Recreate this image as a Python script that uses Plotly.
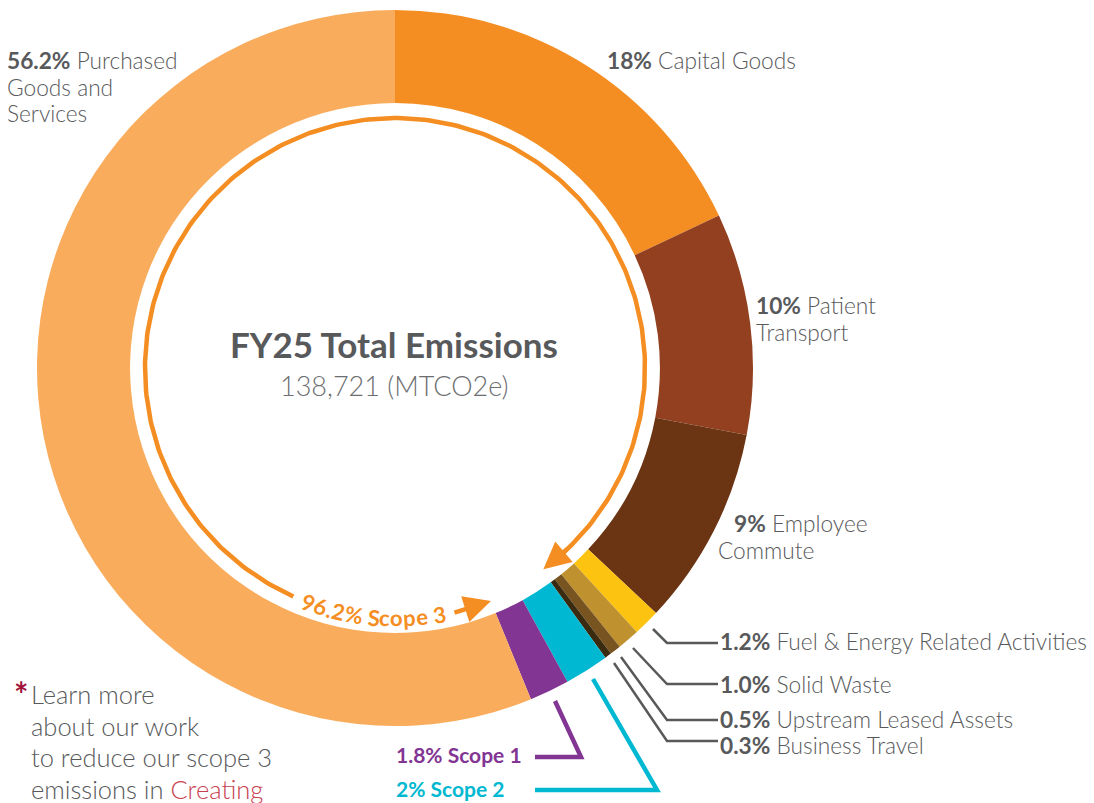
import math
import plotly.graph_objects as go

# ---------------- data ----------------
categories = ["Capital Goods", "Patient Transport", "Employee Commute",
              "Fuel & Energy Related Activities", "Solid Waste",
              "Upstream Leased Assets", "Business Travel", "Scope 2", "Scope 1",
              "Purchased Goods and Services"]
shares = [18, 10, 9, 1.2, 1.0, 0.5, 0.3, 2, 1.8, 56.2]
share_labels = ["18%", "10%", "9%", "1.2%", "1.0%", "0.5%", "0.3%", "2%", "1.8%", "56.2%"]
scope3_label = "96.2% Scope 3"
center_title = "FY25 Total Emissions"
center_value = "138,721 (MTCO2e)"
footnote_lines = ["Learn more", "about our work", "to reduce our scope 3", "emissions in "]
footnote_link = "Creating"

# ---------------- styles ----------------
colors = ["#F58E22", "#92401F", "#6B3413", "#FDC311", "#C0912F",
          "#775420", "#3A2A10", "#00B8D1", "#823593", "#F9AC5C"]
GREY = "#58595B"
ORANGE = "#F58E22"
PURPLE = "#823593"
CYAN = "#00B8D1"
FONT = "Lato"

W, H = 1094, 803
CX, CY, R = 395, 368, 358
HOLE = 0.74
ARC_R = 250
LS = 22.7  # label font size

fig = go.Figure()

fig.add_trace(go.Pie(
    labels=categories, values=shares, sort=False, direction="clockwise",
    rotation=0, hole=HOLE,
    marker=dict(colors=colors, line=dict(width=0)),
    textinfo="none", hoverinfo="label+percent", showlegend=False,
    domain=dict(x=[(CX - R) / W, (CX + R) / W],
                y=[1 - (CY + R) / H, 1 - (CY - R) / H]),
))


def pt(deg, r=ARC_R):
    a = math.radians(deg)
    return CX + r * math.cos(a), CY - r * math.sin(a)


# scope-3 arc (decorative)
arc_angles = [246 - i * (246 - (-48)) / 300 for i in range(301)]
arc_x = [pt(a)[0] for a in arc_angles]
arc_y = [pt(a)[1] for a in arc_angles]
fig.add_trace(go.Scatter(x=arc_x, y=arc_y, mode="lines",
                         line=dict(color=ORANGE, width=4.5),
                         hoverinfo="skip", showlegend=False))

annotations = []

# arrow heads
tip1, tail1 = pt(-53.6), pt(-46)
annotations.append(dict(x=tip1[0], y=tip1[1], ax=tail1[0], ay=tail1[1],
                        xref="x", yref="y", axref="x", ayref="y", text="",
                        showarrow=True, arrowhead=2, arrowsize=1.2, arrowwidth=4.5,
                        arrowcolor=ORANGE, standoff=0, startstandoff=0))
annotations.append(dict(x=491, y=601, ax=453, ay=613,
                        xref="x", yref="y", axref="x", ayref="y", text="",
                        showarrow=True, arrowhead=2, arrowsize=1.2, arrowwidth=4.5,
                        arrowcolor=ORANGE, standoff=0, startstandoff=0))

# curved "96.2% Scope 3" text
cw = {"9": .58, "6": .58, ".": .26, "2": .58, "%": .82, " ": .24, "S": .53,
      "c": .48, "o": .58, "p": .58, "e": .54, "3": .58}
fs_arc = 22
widths = [cw.get(ch, .55) * fs_arc for ch in scope3_label]
total = sum(widths)
mid_deg = 265
s = -total / 2
for ch, w in zip(scope3_label, widths):
    sc = s + w / 2
    deg = mid_deg + math.degrees(sc / ARC_R)
    x, y = pt(deg)
    s += w
    if ch == " ":
        continue
    annotations.append(dict(x=x, y=y, xref="x", yref="y", text=f"<b>{ch}</b>",
                            showarrow=False, textangle=270 - deg,
                            xanchor="center", yanchor="middle",
                            font=dict(family=FONT, size=fs_arc, color=ORANGE)))


def label(text, x, y, size=LS, color=GREY, weight=300, xanchor="left"):
    annotations.append(dict(x=x, y=y, xref="x", yref="y", text=text,
                            showarrow=False, xanchor=xanchor, yanchor="middle",
                            align="left",
                            font=dict(family=FONT, size=size, color=color, weight=weight)))


# segment labels
label(f"<b>{share_labels[9]}</b> Purchased", 5, 60)
label("Goods and", 5, 87)
label("Services", 5, 113)
label(f"<b>{share_labels[0]}</b> {categories[0]}", 605, 60)
label(f"<b>{share_labels[1]}</b> Patient", 754, 305)
label("Transport", 754, 332)
label(f"<b>{share_labels[2]}</b> Employee", 732, 523)
label("Commute", 716, 550)
label(f"<b>{share_labels[3]}</b> {categories[3]}", 718, 641)
label(f"<b>{share_labels[4]}</b> {categories[4]}", 718, 684)
label(f"<b>{share_labels[5]}</b> {categories[5]}", 718, 719)
label(f"<b>{share_labels[6]}</b> {categories[6]}", 718, 745)
label(f"<b>{share_labels[8]} {categories[8]}</b>", 394, 754, size=21, color=PURPLE)
label(f"<b>{share_labels[7]} {categories[7]}</b>", 394, 788, size=21, color=CYAN)

# center text
label(f"<b>{center_title}</b>", CX - 1, 344, size=35, xanchor="center")
label(center_value, CX - 1, 385, size=27, color="#6D6E71", xanchor="center")

# footnote
label("<b>*</b>", 21, 693, size=34, color="#A3143C", weight=700, xanchor="center")
for i, line in enumerate(footnote_lines):
    txt = line if i < len(footnote_lines) - 1 else line + f"<span style='color:#C8414F'>{footnote_link}</span>"
    label(txt, 29, 694 + 31.5 * i, size=25.5)

# leader lines
shapes = []
def path(pts, color, width):
    d = "M " + " L ".join(f"{x},{y}" for x, y in pts)
    shapes.append(dict(type="path", path=d, xref="x", yref="y",
                       line=dict(color=color, width=width)))

path([(653, 629), (667, 643), (718, 643)], GREY, 2.5)
path([(633, 648), (667, 684), (718, 684)], GREY, 2.5)
path([(621, 657), (667, 720), (718, 720)], GREY, 2.5)
path([(614, 663), (667, 741), (718, 741)], GREY, 2.5)
path([(555, 701), (581, 757), (535, 757)], PURPLE, 4.5)
path([(593, 679), (657, 790), (535, 790)], CYAN, 4.5)

fig.update_layout(
    width=W, height=H, margin=dict(l=0, r=0, t=0, b=0),
    paper_bgcolor="white", plot_bgcolor="rgba(0,0,0,0)",
    xaxis=dict(range=[0, W], visible=False, fixedrange=True, domain=[0, 1]),
    yaxis=dict(range=[H, 0], visible=False, fixedrange=True, domain=[0, 1]),
    annotations=annotations, shapes=shapes, showlegend=False,
)

fig.write_html("out.html", config={"displayModeBar": False},
               post_script="document.body.style.margin='0';")
